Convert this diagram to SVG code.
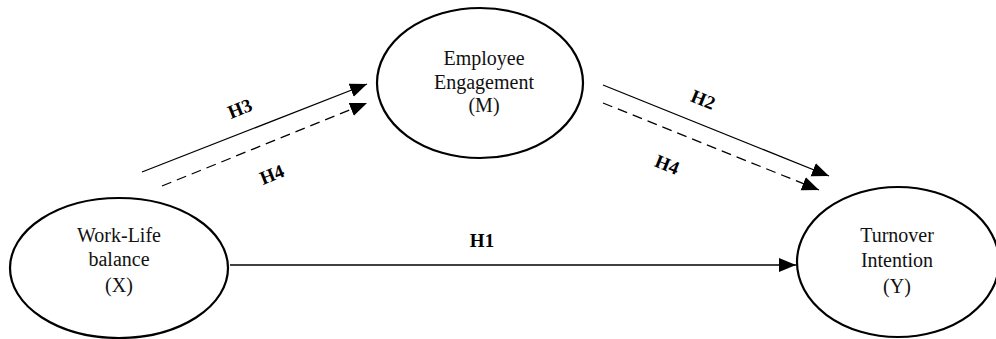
<svg xmlns="http://www.w3.org/2000/svg" width="996" height="339" viewBox="0 0 996 339">
<style>
.node ellipse{fill:#fff;stroke:#000;stroke-width:2.2}
.node text{font-family:"Liberation Serif","Times New Roman",serif;font-size:20px;fill:#111;text-anchor:middle}
.lbl{font-family:"Liberation Serif","Times New Roman",serif;font-size:19px;font-weight:bold;fill:#000;text-anchor:middle}
.c line{stroke:#000;stroke-width:1.3;fill:none;marker-end:url(#arr)}
.c .dash{stroke-dasharray:10,6}
</style>
<defs>
<marker id="arr" markerUnits="userSpaceOnUse" markerWidth="19" markerHeight="15" refX="17" refY="7" orient="auto">
<path d="M0,0 L17,7 L0,14 z" fill="#000"/>
</marker>
</defs>
<rect width="996" height="339" fill="#fff"/>
<g id="connectors" class="c">
<line x1="230" y1="265" x2="796" y2="265"/>
<line x1="142" y1="172" x2="367" y2="84"/>
<line class="dash" x1="162" y1="186" x2="367" y2="103"/>
<line x1="603" y1="85" x2="829" y2="176"/>
<line class="dash" x1="603" y1="103" x2="819" y2="190"/>
</g>
<g id="labels">
<text class="lbl" x="482" y="247">H1</text>
<text class="lbl" transform="translate(240,109) rotate(-22)" y="6">H3</text>
<text class="lbl" transform="translate(272,175) rotate(-22)" y="6">H4</text>
<text class="lbl" transform="translate(703,100) rotate(22)" y="6">H2</text>
<text class="lbl" transform="translate(667,165) rotate(22)" y="6">H4</text>
</g>
<g id="node-x" class="node">
<ellipse cx="119" cy="268" rx="109" ry="70"/>
<text x="119" y="242">Work-Life</text>
<text x="119" y="266">balance</text>
<text x="119" y="292">(X)</text>
</g>
<g id="node-m" class="node">
<ellipse cx="480" cy="83" rx="103" ry="75"/>
<text x="484" y="65">Employee</text>
<text x="484" y="89">Engagement</text>
<text x="484" y="112">(M)</text>
</g>
<g id="node-y" class="node">
<ellipse cx="898" cy="262" rx="101" ry="75"/>
<text x="897" y="242">Turnover</text>
<text x="897" y="267">Intention</text>
<text x="897" y="293">(Y)</text>
</g>
</svg>
